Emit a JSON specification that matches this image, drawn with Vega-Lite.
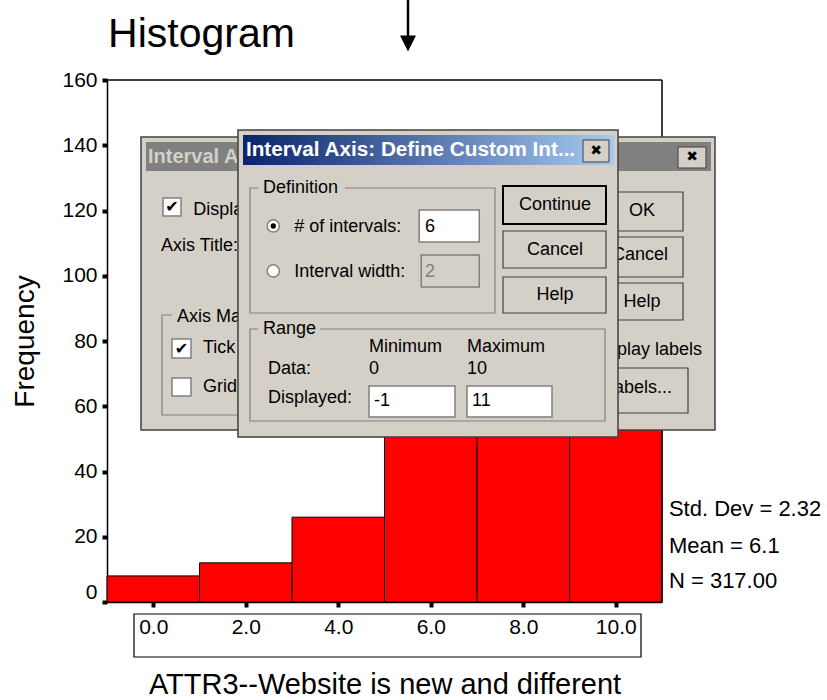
{
  "$schema": "https://vega.github.io/schema/vega-lite/v6.json",
  "width": 555,
  "height": 522,
  "autosize": "none",
  "padding": {"left": 107, "top": 80, "right": 165, "bottom": 98},
  "background": "white",
  "config": {
    "view": {"stroke": null},
    "font": "Liberation Sans",
    "axis": {"grid": false, "domainColor": "black", "domainWidth": 1.5, "tickColor": "black", "labelColor": "black", "titleColor": "black", "labelFont": "Liberation Sans", "titleFont": "Liberation Sans", "titleFontWeight": "normal", "labelOverlap": false}
  },
  "data": {"values": [{}]},
  "layer": [
    {
      "data": {"values": [
        {"bin_start": -1, "bin_end": 1, "frequency": 8},
        {"bin_start": 1, "bin_end": 3, "frequency": 12},
        {"bin_start": 3, "bin_end": 5, "frequency": 26},
        {"bin_start": 5, "bin_end": 7, "frequency": 115},
        {"bin_start": 7, "bin_end": 9, "frequency": 100},
        {"bin_start": 9, "bin_end": 11, "frequency": 56}
      ]},
      "mark": {"type": "rect", "fill": "#ff0000", "stroke": "black", "strokeWidth": 1},
      "encoding": {
        "x": {"field": "bin_start", "type": "quantitative", "scale": {"domain": [-1, 11], "nice": false, "zero": false},
          "axis": {"values": [0, 2, 4, 6, 8, 10], "format": ".1f", "title": "ATTR3--Website is new and different", "labelFontSize": 21, "titleFontSize": 29, "tickSize": 5, "tickWidth": 4, "labelPadding": 9, "titlePadding": 33, "labelFlush": false}},
        "x2": {"field": "bin_end"},
        "y": {"field": "frequency", "type": "quantitative", "scale": {"domain": [0, 160], "nice": false},
          "axis": {"values": [0, 20, 40, 60, 80, 100, 120, 140, 160], "title": "Frequency", "labelFontSize": 21, "titleFontSize": 28, "tickSize": 5, "tickWidth": 4, "labelPadding": 5, "titlePadding": 22,
            "labelBaseline": {"condition": {"test": "datum.value === 0", "value": "bottom"}, "value": "middle"}}},
        "y2": {"datum": 0}
      }
    },
    {"mark": {"type": "rule", "color": "black", "strokeWidth": 1.5}, "encoding": {"x": {"datum": -1}, "x2": {"datum": 11}, "y": {"datum": 160}}},
    {"mark": {"type": "rule", "color": "black", "strokeWidth": 1.5}, "encoding": {"x": {"datum": 11}, "y": {"datum": 0}, "y2": {"datum": 160}}},
    {"mark": {"type": "rect", "fill": "transparent", "stroke": "black", "strokeWidth": 1.2}, "encoding": {"x": {"datum": -0.416}, "x2": {"datum": 10.546}, "y": {"datum": -3.68}, "y2": {"datum": -16.86}}},
    {"mark": {"type": "text", "align": "left", "baseline": "alphabetic", "fontSize": 41, "font": "Liberation Sans", "fill": "black"}, "encoding": {"x": {"datum": -0.978}, "y": {"datum": 170.1}, "text": {"value": "Histogram"}}},
    {"mark": {"type": "text", "align": "left", "baseline": "middle", "fontSize": 22, "font": "Liberation Sans", "fill": "black"}, "encoding": {"x": {"datum": 11.15}, "y": {"datum": 28.6}, "text": {"value": "Std. Dev = 2.32"}}},
    {"mark": {"type": "text", "align": "left", "baseline": "middle", "fontSize": 22, "font": "Liberation Sans", "fill": "black"}, "encoding": {"x": {"datum": 11.15}, "y": {"datum": 17.3}, "text": {"value": "Mean = 6.1"}}},
    {"mark": {"type": "text", "align": "left", "baseline": "middle", "fontSize": 22, "font": "Liberation Sans", "fill": "black"}, "encoding": {"x": {"datum": 11.15}, "y": {"datum": 6.5}, "text": {"value": "N = 317.00"}}},
    {"mark": {"type": "rule", "color": "black", "strokeWidth": 2.5}, "encoding": {"x": {"datum": 5.508}, "y": {"datum": 184.5}, "y2": {"datum": 173.0}}},
    {"mark": {"type": "point", "shape": "M-1,-1L1,-1L0,1Z", "size": 256, "filled": true, "fill": "black", "stroke": null, "opacity": 1}, "encoding": {"x": {"datum": 5.508}, "y": {"datum": 171.2}}},

    {"mark": {"type": "rect", "fill": "#d4d0c8", "stroke": "#404040", "strokeWidth": 1.5}, "encoding": {"x": {"datum": -0.265}, "x2": {"datum": 12.146}, "y": {"datum": 142.53}, "y2": {"datum": 52.72}}},
    {"mark": {"type": "rect", "fill": "#808080"}, "encoding": {"x": {"datum": -0.157}, "x2": {"datum": 12.059}, "y": {"datum": 141.0}, "y2": {"datum": 132.11}}},
    {"mark": {"type": "text", "align": "left", "baseline": "middle", "fontSize": 20, "fontWeight": "bold", "font": "Liberation Sans", "fill": "#d4d0c8", "limit": 92, "ellipsis": "\u200b"}, "encoding": {"x": {"datum": -0.114}, "y": {"datum": 136.55}, "text": {"value": "Interval Axis"}}},
    {"mark": {"type": "rect", "fill": "#d4d0c8", "stroke": "#404040", "strokeWidth": 1}, "encoding": {"x": {"datum": 11.346}, "x2": {"datum": 11.951}, "y": {"datum": 139.46}, "y2": {"datum": 133.03}}},
    {"mark": {"type": "text", "align": "center", "baseline": "middle", "fontSize": 14, "font": "DejaVu Sans", "fill": "black"}, "encoding": {"x": {"datum": 11.649}, "y": {"datum": 136.25}, "text": {"value": "✖"}}},
    {"mark": {"type": "rect", "fill": "white", "stroke": "#808080", "strokeWidth": 1.5}, "encoding": {"x": {"datum": 0.211}, "x2": {"datum": 0.6}, "y": {"datum": 123.83}, "y2": {"datum": 118.31}}},
    {"mark": {"type": "text", "align": "center", "baseline": "middle", "fontSize": 16, "font": "DejaVu Sans", "fontWeight": "bold", "fill": "black"}, "encoding": {"x": {"datum": 0.405}, "y": {"datum": 121.07}, "text": {"value": "✔"}}},
    {"mark": {"type": "text", "align": "left", "baseline": "middle", "fontSize": 18, "font": "Liberation Sans", "fill": "black", "limit": 51, "ellipsis": "\u200b"}, "encoding": {"x": {"datum": 0.864}, "y": {"datum": 120.15}, "text": {"value": "Display axis title"}}},
    {"mark": {"type": "text", "align": "left", "baseline": "middle", "fontSize": 18, "font": "Liberation Sans", "fill": "black"}, "encoding": {"x": {"datum": 0.168}, "y": {"datum": 109.12}, "text": {"value": "Axis Title:"}}},
    {"mark": {"type": "rect", "fill": "transparent", "stroke": "#808080", "strokeWidth": 1.2}, "encoding": {"x": {"datum": 0.189}, "x2": {"datum": 2.308}, "y": {"datum": 87.97}, "y2": {"datum": 57.32}}},
    {"mark": {"type": "rect", "fill": "#d4d0c8"}, "encoding": {"x": {"datum": 0.405}, "x2": {"datum": 1.79}, "y": {"datum": 90.11}, "y2": {"datum": 84.6}}},
    {"mark": {"type": "text", "align": "left", "baseline": "middle", "fontSize": 18, "font": "Liberation Sans", "fill": "black", "limit": 65, "ellipsis": "\u200b"}, "encoding": {"x": {"datum": 0.514}, "y": {"datum": 87.36}, "text": {"value": "Axis Markers"}}},
    {"mark": {"type": "rect", "fill": "white", "stroke": "#808080", "strokeWidth": 1.5}, "encoding": {"x": {"datum": 0.405}, "x2": {"datum": 0.816}, "y": {"datum": 80.61}, "y2": {"datum": 74.79}}},
    {"mark": {"type": "text", "align": "center", "baseline": "middle", "fontSize": 16, "font": "DejaVu Sans", "fontWeight": "bold", "fill": "black"}, "encoding": {"x": {"datum": 0.611}, "y": {"datum": 77.7}, "text": {"value": "✔"}}},
    {"mark": {"type": "text", "align": "left", "baseline": "middle", "fontSize": 18, "font": "Liberation Sans", "fill": "black", "limit": 36, "ellipsis": "\u200b"}, "encoding": {"x": {"datum": 1.076}, "y": {"datum": 77.85}, "text": {"value": "Tick marks"}}},
    {"mark": {"type": "rect", "fill": "white", "stroke": "#808080", "strokeWidth": 1.5}, "encoding": {"x": {"datum": 0.405}, "x2": {"datum": 0.816}, "y": {"datum": 68.66}, "y2": {"datum": 63.14}}},
    {"mark": {"type": "text", "align": "left", "baseline": "middle", "fontSize": 18, "font": "Liberation Sans", "fill": "black", "limit": 36, "ellipsis": "\u200b"}, "encoding": {"x": {"datum": 1.076}, "y": {"datum": 65.9}, "text": {"value": "Grid lines"}}},
    {"mark": {"type": "rect", "fill": "#d4d0c8", "stroke": "#404040", "strokeWidth": 1.2}, "encoding": {"x": {"datum": 9.659}, "x2": {"datum": 11.454}, "y": {"datum": 125.67}, "y2": {"datum": 113.72}}},
    {"mark": {"type": "text", "align": "center", "baseline": "middle", "fontSize": 18, "font": "Liberation Sans", "fill": "black"}, "encoding": {"x": {"datum": 10.567}, "y": {"datum": 119.85}, "text": {"value": "OK"}}},
    {"mark": {"type": "rect", "fill": "#d4d0c8", "stroke": "#404040", "strokeWidth": 1.2}, "encoding": {"x": {"datum": 9.659}, "x2": {"datum": 11.454}, "y": {"datum": 111.88}, "y2": {"datum": 99.62}}},
    {"mark": {"type": "text", "align": "right", "baseline": "middle", "fontSize": 18, "font": "Liberation Sans", "fill": "black"}, "encoding": {"x": {"datum": 11.13}, "y": {"datum": 106.36}, "text": {"value": "Cancel"}}},
    {"mark": {"type": "rect", "fill": "#d4d0c8", "stroke": "#404040", "strokeWidth": 1.2}, "encoding": {"x": {"datum": 9.659}, "x2": {"datum": 11.454}, "y": {"datum": 97.78}, "y2": {"datum": 86.44}}},
    {"mark": {"type": "text", "align": "center", "baseline": "middle", "fontSize": 18, "font": "Liberation Sans", "fill": "black"}, "encoding": {"x": {"datum": 10.567}, "y": {"datum": 91.95}, "text": {"value": "Help"}}},
    {"mark": {"type": "text", "align": "right", "baseline": "middle", "fontSize": 18, "font": "Liberation Sans", "fill": "black"}, "encoding": {"x": {"datum": 11.865}, "y": {"datum": 77.24}, "text": {"value": "Display labels"}}},
    {"mark": {"type": "rect", "fill": "#d4d0c8", "stroke": "#404040", "strokeWidth": 1.2}, "encoding": {"x": {"datum": 9.659}, "x2": {"datum": 11.562}, "y": {"datum": 71.72}, "y2": {"datum": 57.93}}},
    {"mark": {"type": "text", "align": "right", "baseline": "middle", "fontSize": 18, "font": "Liberation Sans", "fill": "black"}, "encoding": {"x": {"datum": 11.216}, "y": {"datum": 65.59}, "text": {"value": "Labels..."}}},

    {"mark": {"type": "rect", "fill": "#d4d0c8", "stroke": "#404040", "strokeWidth": 1.5}, "encoding": {"x": {"datum": 1.832}, "x2": {"datum": 10.049}, "y": {"datum": 144.67}, "y2": {"datum": 50.57}}},
    {"mark": {"type": "rect", "fill": {"gradient": "linear", "x1": 0, "y1": 0, "x2": 1, "y2": 0, "stops": [{"offset": 0, "color": "#0a246a"}, {"offset": 1, "color": "#a6caf0"}]}}, "encoding": {"x": {"datum": 1.941}, "x2": {"datum": 9.962}, "y": {"datum": 143.14}, "y2": {"datum": 133.95}}},
    {"mark": {"type": "text", "align": "left", "baseline": "middle", "fontSize": 20.7, "fontWeight": "bold", "font": "Liberation Sans", "fill": "white"}, "encoding": {"x": {"datum": 2.005}, "y": {"datum": 138.54}, "text": {"value": "Interval Axis: Define Custom Int..."}}},
    {"mark": {"type": "rect", "fill": "#d4d0c8", "stroke": "#404040", "strokeWidth": 1}, "encoding": {"x": {"datum": 9.292}, "x2": {"datum": 9.854}, "y": {"datum": 141.61}, "y2": {"datum": 134.87}}},
    {"mark": {"type": "text", "align": "center", "baseline": "middle", "fontSize": 14, "font": "DejaVu Sans", "fill": "black"}, "encoding": {"x": {"datum": 9.573}, "y": {"datum": 138.24}, "text": {"value": "✖"}}},
    {"mark": {"type": "rect", "fill": "transparent", "stroke": "#808080", "strokeWidth": 1.2}, "encoding": {"x": {"datum": 2.092}, "x2": {"datum": 7.389}, "y": {"datum": 126.9}, "y2": {"datum": 88.58}}},
    {"mark": {"type": "rect", "fill": "#d4d0c8"}, "encoding": {"x": {"datum": 2.265}, "x2": {"datum": 4.146}, "y": {"datum": 129.35}, "y2": {"datum": 124.14}}},
    {"mark": {"type": "text", "align": "left", "baseline": "middle", "fontSize": 18, "font": "Liberation Sans", "fill": "black"}, "encoding": {"x": {"datum": 2.373}, "y": {"datum": 126.9}, "text": {"value": "Definition"}}},
    {"mark": {"type": "point", "shape": "circle", "size": 150, "filled": true, "fill": "white", "stroke": "#808080", "strokeWidth": 1.5, "opacity": 1}, "encoding": {"x": {"datum": 2.595}, "y": {"datum": 115.25}}},
    {"mark": {"type": "point", "shape": "circle", "size": 28, "filled": true, "fill": "black", "stroke": null, "opacity": 1}, "encoding": {"x": {"datum": 2.595}, "y": {"datum": 115.25}}},
    {"mark": {"type": "text", "align": "left", "baseline": "middle", "fontSize": 18, "font": "Liberation Sans", "fill": "black"}, "encoding": {"x": {"datum": 3.05}, "y": {"datum": 114.94}, "text": {"value": "# of intervals:"}}},
    {"mark": {"type": "rect", "fill": "white", "stroke": "#808080", "strokeWidth": 1.5}, "encoding": {"x": {"datum": 5.751}, "x2": {"datum": 7.049}, "y": {"datum": 120.15}, "y2": {"datum": 110.34}}},
    {"mark": {"type": "text", "align": "left", "baseline": "middle", "fontSize": 18, "font": "Liberation Sans", "fill": "black"}, "encoding": {"x": {"datum": 5.876}, "y": {"datum": 114.94}, "text": {"value": "6"}}},
    {"mark": {"type": "point", "shape": "circle", "size": 150, "filled": true, "fill": "white", "stroke": "#808080", "strokeWidth": 1.5, "opacity": 1}, "encoding": {"x": {"datum": 2.595}, "y": {"datum": 101.46}}},
    {"mark": {"type": "text", "align": "left", "baseline": "middle", "fontSize": 18, "font": "Liberation Sans", "fill": "black"}, "encoding": {"x": {"datum": 3.05}, "y": {"datum": 101.3}, "text": {"value": "Interval width:"}}},
    {"mark": {"type": "rect", "fill": "#d4d0c8", "stroke": "#808080", "strokeWidth": 1.5}, "encoding": {"x": {"datum": 5.795}, "x2": {"datum": 7.049}, "y": {"datum": 106.36}, "y2": {"datum": 96.55}}},
    {"mark": {"type": "text", "align": "left", "baseline": "middle", "fontSize": 18, "font": "Liberation Sans", "fill": "#808080"}, "encoding": {"x": {"datum": 5.876}, "y": {"datum": 101.3}, "text": {"value": "2"}}},
    {"mark": {"type": "rect", "fill": "#d4d0c8", "stroke": "black", "strokeWidth": 2}, "encoding": {"x": {"datum": 7.562}, "x2": {"datum": 9.789}, "y": {"datum": 127.51}, "y2": {"datum": 115.86}}},
    {"mark": {"type": "text", "align": "center", "baseline": "middle", "fontSize": 18, "font": "Liberation Sans", "fill": "black"}, "encoding": {"x": {"datum": 8.686}, "y": {"datum": 121.69}, "text": {"value": "Continue"}}},
    {"mark": {"type": "rect", "fill": "#d4d0c8", "stroke": "#404040", "strokeWidth": 1.2}, "encoding": {"x": {"datum": 7.562}, "x2": {"datum": 9.789}, "y": {"datum": 113.72}, "y2": {"datum": 102.38}}},
    {"mark": {"type": "text", "align": "center", "baseline": "middle", "fontSize": 18, "font": "Liberation Sans", "fill": "black"}, "encoding": {"x": {"datum": 8.686}, "y": {"datum": 107.89}, "text": {"value": "Cancel"}}},
    {"mark": {"type": "rect", "fill": "#d4d0c8", "stroke": "#404040", "strokeWidth": 1.2}, "encoding": {"x": {"datum": 7.562}, "x2": {"datum": 9.789}, "y": {"datum": 99.62}, "y2": {"datum": 88.58}}},
    {"mark": {"type": "text", "align": "center", "baseline": "middle", "fontSize": 18, "font": "Liberation Sans", "fill": "black"}, "encoding": {"x": {"datum": 8.686}, "y": {"datum": 94.1}, "text": {"value": "Help"}}},
    {"mark": {"type": "rect", "fill": "transparent", "stroke": "#808080", "strokeWidth": 1.2}, "encoding": {"x": {"datum": 2.092}, "x2": {"datum": 9.768}, "y": {"datum": 83.68}, "y2": {"datum": 55.48}}},
    {"mark": {"type": "rect", "fill": "#d4d0c8"}, "encoding": {"x": {"datum": 2.265}, "x2": {"datum": 3.606}, "y": {"datum": 86.13}, "y2": {"datum": 80.92}}},
    {"mark": {"type": "text", "align": "left", "baseline": "middle", "fontSize": 18, "font": "Liberation Sans", "fill": "black"}, "encoding": {"x": {"datum": 2.373}, "y": {"datum": 83.68}, "text": {"value": "Range"}}},
    {"mark": {"type": "text", "align": "left", "baseline": "middle", "fontSize": 18, "font": "Liberation Sans", "fill": "black"}, "encoding": {"x": {"datum": 4.665}, "y": {"datum": 78.16}, "text": {"value": "Minimum"}}},
    {"mark": {"type": "text", "align": "left", "baseline": "middle", "fontSize": 18, "font": "Liberation Sans", "fill": "black"}, "encoding": {"x": {"datum": 6.784}, "y": {"datum": 78.16}, "text": {"value": "Maximum"}}},
    {"mark": {"type": "text", "align": "left", "baseline": "middle", "fontSize": 18, "font": "Liberation Sans", "fill": "black"}, "encoding": {"x": {"datum": 2.481}, "y": {"datum": 71.42}, "text": {"value": "Data:"}}},
    {"mark": {"type": "text", "align": "left", "baseline": "middle", "fontSize": 18, "font": "Liberation Sans", "fill": "black"}, "encoding": {"x": {"datum": 4.665}, "y": {"datum": 71.42}, "text": {"value": "0"}}},
    {"mark": {"type": "text", "align": "left", "baseline": "middle", "fontSize": 18, "font": "Liberation Sans", "fill": "black"}, "encoding": {"x": {"datum": 6.784}, "y": {"datum": 71.42}, "text": {"value": "10"}}},
    {"mark": {"type": "text", "align": "left", "baseline": "middle", "fontSize": 18, "font": "Liberation Sans", "fill": "black"}, "encoding": {"x": {"datum": 2.481}, "y": {"datum": 62.53}, "text": {"value": "Displayed:"}}},
    {"mark": {"type": "rect", "fill": "white", "stroke": "#808080", "strokeWidth": 1.5}, "encoding": {"x": {"datum": 4.665}, "x2": {"datum": 6.524}, "y": {"datum": 66.21}, "y2": {"datum": 56.7}}},
    {"mark": {"type": "text", "align": "left", "baseline": "middle", "fontSize": 18, "font": "Liberation Sans", "fill": "black"}, "encoding": {"x": {"datum": 4.773}, "y": {"datum": 61.61}, "text": {"value": "-1"}}},
    {"mark": {"type": "rect", "fill": "white", "stroke": "#808080", "strokeWidth": 1.5}, "encoding": {"x": {"datum": 6.784}, "x2": {"datum": 8.622}, "y": {"datum": 66.21}, "y2": {"datum": 56.7}}},
    {"mark": {"type": "text", "align": "left", "baseline": "middle", "fontSize": 18, "font": "Liberation Sans", "fill": "black"}, "encoding": {"x": {"datum": 6.892}, "y": {"datum": 61.61}, "text": {"value": "11"}}}
  ]
}
